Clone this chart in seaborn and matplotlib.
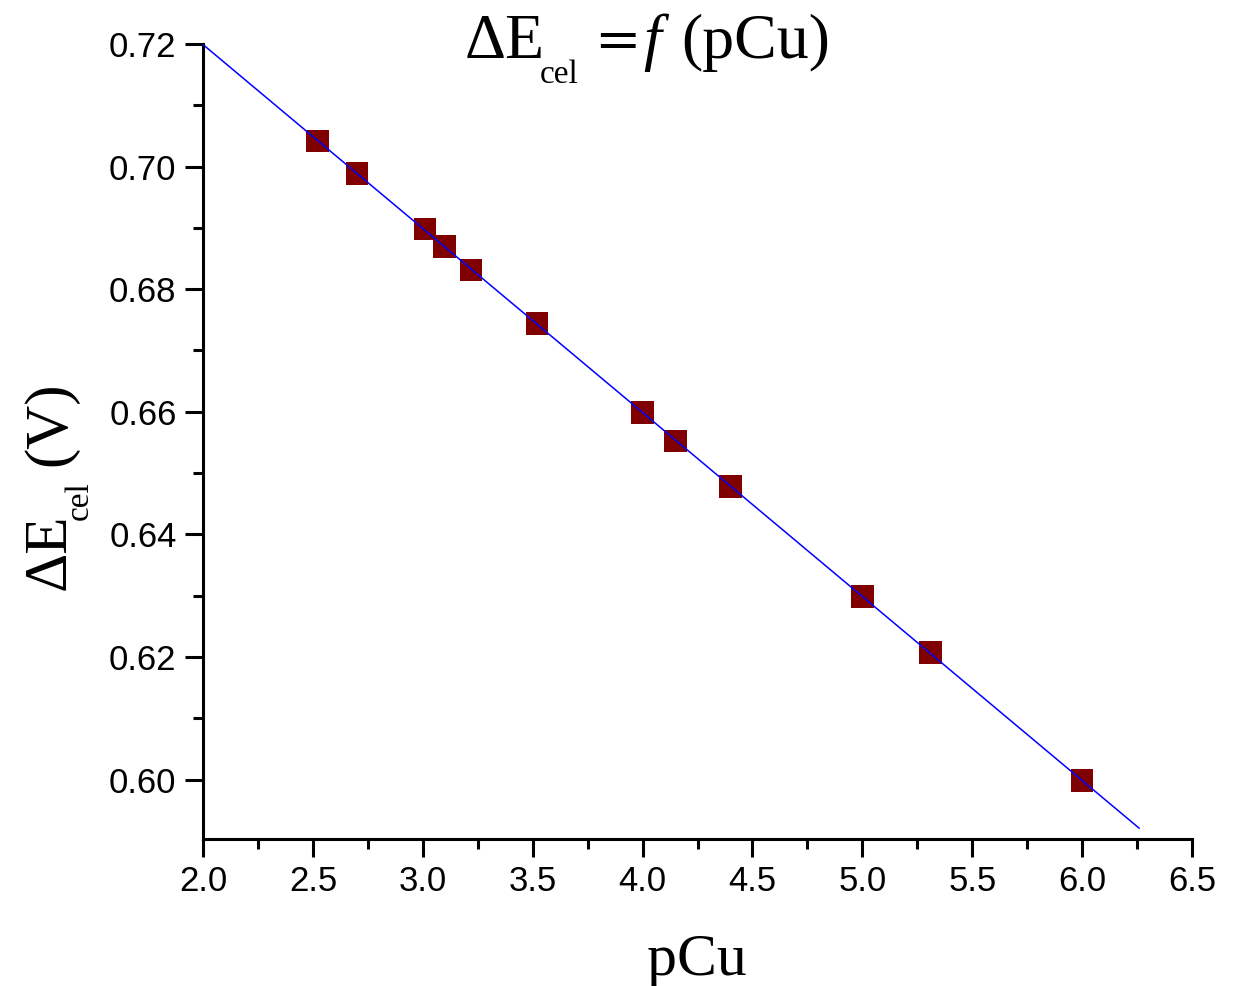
import matplotlib
matplotlib.use("Agg")
import matplotlib.pyplot as plt
from matplotlib.ticker import MultipleLocator, FormatStrFormatter
import seaborn as sns
import pandas as pd
import numpy as np

# measured points: pCu and cell potential (V)
pcu = [2.52, 2.70, 3.01, 3.10, 3.22, 3.52, 4.00, 4.15, 4.40, 5.00, 5.31, 6.00]
e_cel = [0.7042, 0.6989, 0.6898, 0.6870, 0.6831, 0.6744, 0.6599, 0.6552, 0.6478, 0.6299, 0.6207, 0.5998]

# range of the fitted line
fit_range = [2.0, 6.26]

x_ticks = [2.0, 2.5, 3.0, 3.5, 4.0, 4.5, 5.0, 5.5, 6.0, 6.5]
y_ticks = [0.60, 0.62, 0.64, 0.66, 0.68, 0.70, 0.72]

sns.set_style("ticks")
plt.rcParams["font.family"] = ["Liberation Sans", "DejaVu Sans"]
plt.rcParams["text.color"] = "black"

W, H = 1235, 986
SERIF = "Liberation Serif"

df = pd.DataFrame({"pCu": pcu, "E": e_cel})
slope, intercept = np.polyfit(df["pCu"], df["E"], 1)
fit_df = pd.DataFrame({"pCu": fit_range})
fit_df["E"] = intercept + slope * fit_df["pCu"]

fig = plt.figure(figsize=(W / 100, H / 100), dpi=100)
ax = fig.add_axes([203 / W, 1 - 839 / H, (1192 - 203) / W, (839 - 44) / H])

sns.scatterplot(data=df, x="pCu", y="E", marker="s", s=265, color="#800000",
                edgecolor="none", linewidth=0, ax=ax, zorder=2)
sns.lineplot(data=fit_df, x="pCu", y="E", color="#0000ff", linewidth=1.1,
             ax=ax, zorder=3)

ax.set_xlim(2.0, 6.5)
ax.set_ylim(0.5903, 0.72)
ax.set_xticks(x_ticks)
ax.set_yticks(y_ticks)
ax.xaxis.set_minor_locator(MultipleLocator(0.25))
ax.yaxis.set_minor_locator(MultipleLocator(0.01))
ax.xaxis.set_major_formatter(FormatStrFormatter("%.1f"))
ax.yaxis.set_major_formatter(FormatStrFormatter("%.2f"))

sns.despine(ax=ax)
for side in ["left", "bottom"]:
    ax.spines[side].set_linewidth(2.2)
    ax.spines[side].set_color("black")

ax.tick_params(which="major", direction="out", length=13, width=2.2,
               labelsize=25, pad=6, colors="black")
ax.tick_params(which="minor", direction="out", length=7, width=2.2, colors="black")
ax.set_xlabel("")
ax.set_ylabel("")


def put(px, py, s, size, rot=0, style="normal", family=SERIF):
    fig.text(px / W, 1 - py / H, s, family=family, fontsize=size, style=style,
             ha="left", va="baseline", rotation=rot, rotation_mode="anchor")


# title: ΔE_cel = f(pCu)
put(465, 58, "\u0394E", 46)
put(540, 83, "cel", 24)
put(594, 58, "=", 40, family="DejaVu Serif")
put(643, 58, "f", 46, style="italic")
put(681, 58, "(pCu)", 46)

# x label
fig.text(697 / W, 1 - 975 / H, "pCu", family=SERIF, fontsize=43,
         ha="center", va="baseline")

# y label: ΔE_cel (V), rotated
put(65, 590, "\u0394E", 44, rot=90)
put(88, 520, "cel", 24, rot=90)
put(65, 466, "(V)", 44, rot=90)

fig.savefig("out.png", dpi=100)
